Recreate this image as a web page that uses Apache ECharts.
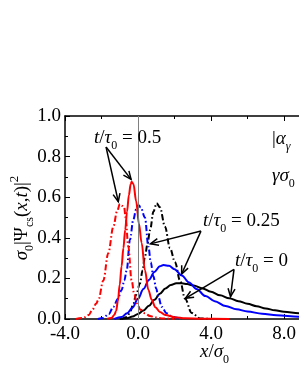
<!DOCTYPE html>
<html>
<head>
<meta charset="utf-8">
<script src="https://cdn.jsdelivr.net/npm/echarts@6/dist/echarts.min.js"></script>
<style>
html,body{margin:0;padding:0;background:#fff;}
#c{width:299px;height:387px;}
</style>
</head>
<body>
<div id="c"></div>
<script>
// ---- data ----
const xTickLabels = ['-4.0', '0.0', '4.0', '8.0'];
const yTickLabels = ['0.0', '0.2', '0.4', '0.6', '0.8', '1.0'];

// t/tau0 = 0 (black)
const blackSolidX = [-1.0,-0.6,-0.3,0,0.3,0.6,0.9,1.2,1.5,1.8,2.1,2.4,2.7,3.0,3.5,4.0,4.5,5.0,5.5,6.0,6.5,7.0,7.5,8.0,8.8,10,12];
const blackSolidY = [0,0.004,0.012,0.025,0.042,0.065,0.095,0.125,0.15,0.167,0.176,0.176,0.172,0.166,0.152,0.134,0.117,0.102,0.088,0.075,0.063,0.052,0.043,0.036,0.028,0.019,0.01];
const blackDashX = [-0.9,-0.6,-0.4,-0.26,-0.1,0.11,0.25,0.38,0.52,0.66,0.85,1.02,1.2,1.48,1.75,2.03,2.3,2.58,2.94,3.4,4.0];
const blackDashY = [0,0.01,0.04,0.077,0.12,0.176,0.24,0.307,0.37,0.438,0.53,0.57,0.55,0.455,0.35,0.28,0.19,0.1,0.03,0.003,0];

// t/tau0 = 0.25 (blue)
const blueSolidX = [-1.3,-0.9,-0.6,-0.3,0,0.3,0.6,0.9,1.2,1.4,1.7,2.0,2.4,2.8,3.2,3.7,4.2,4.8,5.4,6.0,6.8,7.6,8.8,10,12];
const blueSolidY = [0,0.01,0.028,0.056,0.1,0.148,0.192,0.232,0.26,0.266,0.262,0.245,0.214,0.18,0.148,0.113,0.088,0.064,0.048,0.037,0.026,0.018,0.011,0.006,0.003];
const blueDashX = [-2.2,-1.9,-1.6,-1.35,-1.1,-0.9,-0.75,-0.62,-0.44,-0.26,-0.1,0.02,0.15,0.38,0.57,0.7,0.84,1.0,1.11,1.3,1.57,1.9,2.4];
const blueDashY = [0,0.005,0.025,0.06,0.1,0.143,0.19,0.24,0.39,0.488,0.54,0.562,0.55,0.5,0.356,0.28,0.21,0.15,0.11,0.06,0.028,0.01,0];

// t/tau0 = 0.5 (red)
const redSolidX = [-1.7,-1.45,-1.3,-1.2,-1.1,-1.0,-0.9,-0.8,-0.7,-0.6,-0.5,-0.4,-0.35,-0.25,-0.1,0.05,0.2,0.38,0.57,0.75,0.95,1.2,1.5,2.0,2.6,3.5,5];
const redSolidY = [0,0.005,0.02,0.04,0.09,0.17,0.26,0.35,0.44,0.53,0.61,0.665,0.676,0.665,0.58,0.47,0.375,0.24,0.143,0.095,0.058,0.035,0.02,0.009,0.004,0.001,0];
const redDashX = [-3.4,-3.0,-2.7,-2.5,-2.3,-2.17,-1.9,-1.63,-1.35,-1.15,-0.99,-0.88,-0.76,-0.68,-0.53,-0.35,-0.2,-0.07,0.15,0.38,0.65,0.93,1.3,2.0];
const redDashY = [0,0.005,0.02,0.045,0.075,0.094,0.19,0.324,0.455,0.53,0.567,0.558,0.552,0.5,0.356,0.19,0.12,0.077,0.045,0.028,0.015,0.008,0.003,0];

// annotation arrows (data coordinates: from -> to)
const arrows = [
  [[-1.75, 0.847], [-1.08, 0.578]],
  [[-1.75, 0.847], [-0.38, 0.688]],
  [[3.45, 0.433], [0.68, 0.37]],
  [[3.45, 0.433], [2.39, 0.222]],
  [[5.26, 0.244], [2.6, 0.102]],
  [[5.26, 0.244], [5.07, 0.11]]
];

// ---- chart ----
const FONT = 'Liberation Serif';
const pair = (xs, ys) => xs.map((x, i) => [x, ys[i]]);
const chart = echarts.init(document.getElementById('c'), null, {renderer: 'canvas'});

function curve(xs, ys, color, dashed) {
  return {
    type: 'line', data: pair(xs, ys), showSymbol: false, symbol: 'none',
    smooth: 0.35, smoothMonotone: 'x', clip: true, silent: true,
    lineStyle: {color: color, width: 2, type: dashed ? [6, 2.5, 1.5, 2.5] : 'solid', cap: 'butt'},
    z: 3
  };
}

const tickFmt = (labels) => (v) => {
  const s = v.toFixed(1);
  const hit = labels.find(l => parseFloat(l) === parseFloat(s));
  return hit !== undefined ? hit : '';
};

const option = {
  animation: false,
  backgroundColor: '#fff',
  grid: {left: 65, top: 116, width: 292, height: 203, containLabel: false, outerBoundsMode: 'none'},
  xAxis: [{
    type: 'value', min: -4, max: 12, interval: 4,
    axisLine: {show: true, onZero: false, lineStyle: {color: '#000', width: 1.5}},
    axisTick: {show: true, inside: true, length: 5, lineStyle: {color: '#000', width: 1}},
    minorTick: {show: true, splitNumber: 2, length: 3, lineStyle: {color: '#000', width: 1}},
    axisLabel: {show: true, margin: 6, color: '#000', fontFamily: FONT, fontSize: 19, formatter: tickFmt(xTickLabels), hideOverlap: false},
    splitLine: {show: false}
  }, {
    type: 'value', position: 'top', min: -4, max: 12, interval: 4,
    axisLine: {show: true, onZero: false, lineStyle: {color: '#000', width: 1.5}},
    axisTick: {show: true, inside: true, length: 5, lineStyle: {color: '#000', width: 1}},
    minorTick: {show: true, splitNumber: 2, length: 3, lineStyle: {color: '#000', width: 1}},
    axisLabel: {show: false},
    splitLine: {show: false}
  }],
  yAxis: {
    type: 'value', min: 0, max: 1, interval: 0.2,
    axisLine: {show: true, onZero: false, lineStyle: {color: '#000', width: 1.5}},
    axisTick: {show: true, inside: true, length: 5, lineStyle: {color: '#000', width: 1}},
    minorTick: {show: true, splitNumber: 2, length: 3, lineStyle: {color: '#000', width: 1}},
    axisLabel: {show: true, margin: 4, color: '#000', fontFamily: FONT, fontSize: 19, formatter: tickFmt(yTickLabels)},
    splitLine: {show: false}
  },
  series: [
    {
      type: 'line', data: [], silent: true, z: 1,
      markLine: {
        silent: true, symbol: ['none', 'none'], label: {show: false},
        lineStyle: {color: '#808080', width: 1, type: 'solid'},
        data: [{xAxis: 0}], animation: false
      }
    },
    curve(blackSolidX, blackSolidY, '#000000', false),
    curve(blackDashX, blackDashY, '#000000', true),
    curve(blueSolidX, blueSolidY, '#0000ff', false),
    curve(blueDashX, blueDashY, '#0000ff', true),
    curve(redSolidX, redSolidY, '#ff0000', false),
    curve(redDashX, redDashY, '#ff0000', true)
  ]
};
chart.setOption(option);

// ---- annotations ----
const richBase = {
  i: {fontFamily: FONT, fontStyle: 'italic', fontSize: 19, lineHeight: 22, color: '#000'},
  n: {fontFamily: FONT, fontSize: 19, lineHeight: 22, color: '#000'},
  s: {fontFamily: FONT, fontSize: 12, lineHeight: 12, padding: [16, 0, 0, 0], color: '#000'},
  si: {fontFamily: FONT, fontStyle: 'italic', fontSize: 12, lineHeight: 12, padding: [16, 0, 0, 0], color: '#000'},
  p: {fontFamily: FONT, fontSize: 13, lineHeight: 13, padding: [0, 0, 14, 0], color: '#000'}
};
function label(x, y, text, extra) {
  return Object.assign({
    type: 'text', x: x, y: y, z: 20, silent: true,
    style: {text: text, rich: richBase, align: 'left', verticalAlign: 'middle', fill: '#000', font: '19px ' + FONT}
  }, extra || {});
}

const g = [];
arrows.forEach(([a, b]) => {
  const p0 = chart.convertToPixel({gridIndex: 0}, a);
  const p1 = chart.convertToPixel({gridIndex: 0}, b);
  const dx = p1[0] - p0[0], dy = p1[1] - p0[1];
  const L = Math.hypot(dx, dy), ux = dx / L, uy = dy / L;
  const hl = 8, hw = 3.5;
  g.push({type: 'line', z: 10, silent: true, shape: {x1: p0[0], y1: p0[1], x2: p1[0], y2: p1[1]},
    style: {stroke: '#000', lineWidth: 1.5}});
  g.push({type: 'polyline', z: 10, silent: true,
    shape: {points: [[p1[0] - ux * hl - uy * hw, p1[1] - uy * hl + ux * hw], [p1[0], p1[1]], [p1[0] - ux * hl + uy * hw, p1[1] - uy * hl - ux * hw]]},
    style: {stroke: '#000', lineWidth: 1.5, fill: null}});
});

g.push(label(94, 138, '{i|t}{n|/}{i|τ}{s|0}{n| = 0.5}'));
g.push(label(203, 221, '{i|t}{n|/}{i|τ}{s|0}{n| = 0.25}'));
g.push(label(235, 261, '{i|t}{n|/}{i|τ}{s|0}{n| = 0}'));
g.push(label(272, 139, '{n||}{i|α}{si|γ}'));
g.push(label(272, 176, '{i|γσ}{s|0}'));
// axis titles
g.push(label(200, 352, '{i|x}{n|/}{i|σ}{s|0}'));
g.push(label(22, 218, '',
  {rotation: Math.PI / 2, style: {text: '{i|σ}{s|0}{n||Ψ}{s|cs}{n|(}{i|x}{n|,}{i|t}{n|)|}{p|2}', rich: richBase, align: 'center', verticalAlign: 'middle', fill: '#000', font: '19px ' + FONT}}));

chart.setOption({graphic: g});
</script>
</body>
</html>
